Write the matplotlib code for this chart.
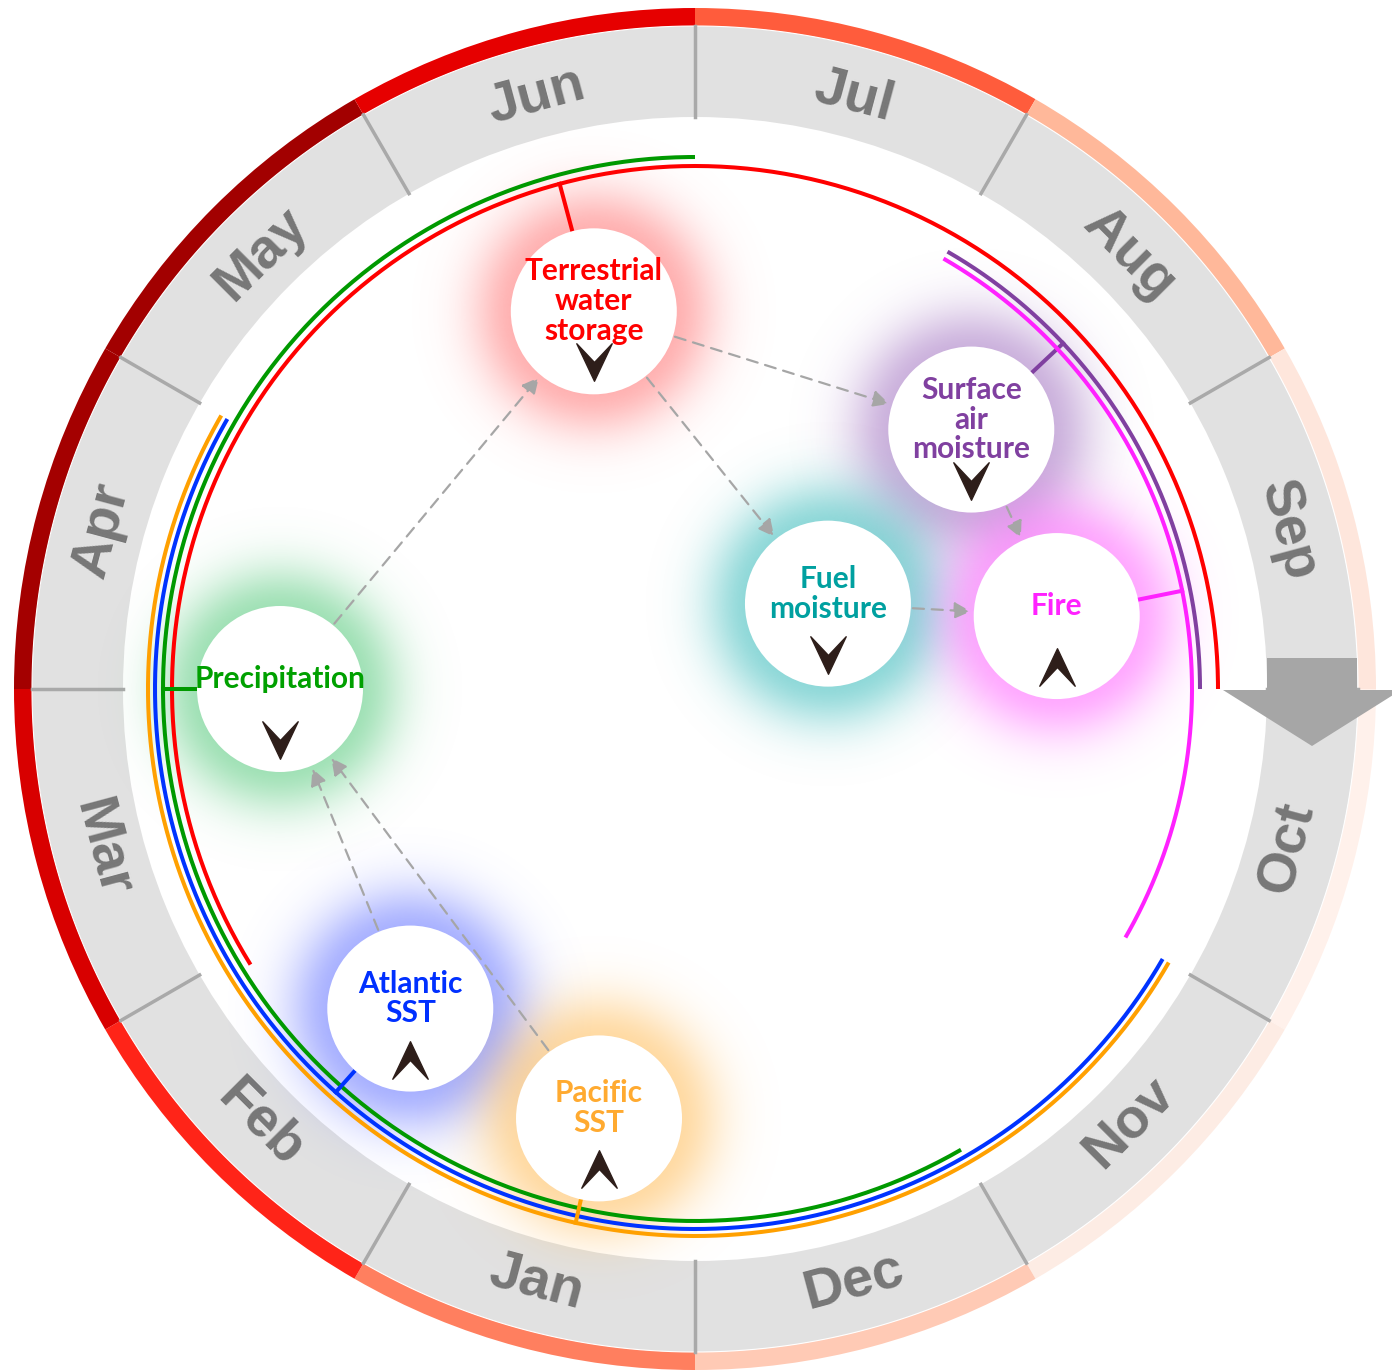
import numpy as np
import matplotlib.pyplot as plt
import matplotlib.patches as mpatches
from matplotlib.path import Path
from matplotlib.colors import to_rgb

# mesi e colori della corona esterna
months = ['Jan', 'Feb', 'Mar', 'Apr', 'May', 'Jun',
          'Jul', 'Aug', 'Sep', 'Oct', 'Nov', 'Dec']
month_colors = ['#ff7f5f', '#ff2418', '#d80000', '#a40000', '#a20000', '#e60000',
                '#ff5c3c', '#ffb89a', '#fee6dc', '#fff1eb', '#fdece4', '#ffcab5']

# variabili (nodi)
labels = ['Terrestrial\nwater\nstorage', 'Surface\nair\nmoisture', 'Fuel\nmoisture',
          'Fire', 'Precipitation', 'Atlantic\nSST', 'Pacific\nSST']
text_colors = ['#ff0000', '#8040a0', '#00a0a0', '#ff22ff', '#00a000', '#0030ff', '#ffaa30']
line_colors = ['#ff0000', '#8040a0', None, '#ff22ff', '#009900', '#0033ff', '#ffa000']
glow_colors = ['#ff7070', '#a070c0', '#30b8b8', '#ff60ff', '#50c878', '#6070ff', '#ffbb55']
peak_month = [5.5, 7.56, 7.91, 8.62, 3.0, 1.39, 0.42]   # mese di picco (0 = inizio Jan)
node_dist = [391, 379, 158, 369, 415, 428, 440]        # distanza dal centro
trend = ['down', 'down', 'down', 'up', 'down', 'up', 'up']

# archi stagionali
arc_start = [1.94, 7.0, None, 7.0, -1.0, -2.0, -2.0]
arc_end = [9.0, 9.0, None, 10.0, 6.0, 4.0, 4.0]
arc_radius = [523, 505, None, 497, 532, 540, 547]

# collegamenti (da, a)
links = [(4, 0), (0, 1), (0, 2), (1, 3), (2, 3), (5, 4), (6, 4)]

W, H = 1392, 1372
CX, CY = 695, 683
R_NODE = 83


def ang(m):
    return np.deg2rad(-90 - 30 * np.asarray(m))


def pt(m, r):
    a = ang(m)
    return CX + r * np.cos(a), CY + r * np.sin(a)


fig = plt.figure(figsize=(W / 100, H / 100), dpi=100)
ax = fig.add_axes([0, 0, 1, 1])
ax.set_xlim(0, W)
ax.set_ylim(0, H)
ax.set_aspect('equal')
ax.axis('off')

# corona grigia e fascia colorata
ax.add_patch(mpatches.Wedge((CX, CY), 663, 0, 360, width=91, fc='#e1e1e1', ec='none', zorder=1))
for i, c in enumerate(month_colors):
    ax.add_patch(mpatches.Wedge((CX, CY), 681, -120 - 30 * i, -90 - 30 * i, width=18,
                                fc=c, ec='none', zorder=1))
circ = np.linspace(0, 2 * np.pi, 400)
ax.plot(CX + 663 * np.cos(circ), CY + 663 * np.sin(circ), color='white', lw=0.8, zorder=1.5)

for i, name in enumerate(months):
    x0, y0 = pt(i, 572)
    x1, y1 = pt(i, 663)
    ax.plot([x0, x1], [y0, y1], color='#a9a9a9', lw=2.5, zorder=1.5)
    th = (-90 - 30 * (i + 0.5) + 180) % 360 - 180
    rot = th - 90 if th > 0 else th + 90
    xl, yl = pt(i + 0.5, 614)
    ax.text(xl, yl, name, rotation=rot, rotation_mode='anchor', ha='center', va='center',
            fontsize=40, fontweight='bold', family='Liberation Sans', color='#777777', zorder=2)

# nodi: alone, cerchio bianco, testo, freccia
G = 190
yy, xx = np.mgrid[-G:G + 1, -G:G + 1]
dist = np.hypot(xx, yy)
glow_alpha = 0.55 * np.exp(-np.clip(dist - 76, 0, None) ** 2 / (2 * 34 ** 2))

down = Path([(-17, 18), (0, 0), (17, 18), (0, -18), (-17, 18)],
            [Path.MOVETO, Path.LINETO, Path.LINETO, Path.LINETO, Path.CLOSEPOLY])
up = Path([(-17, -18), (0, 0), (17, -18), (0, 18), (-17, -18)],
          [Path.MOVETO, Path.LINETO, Path.LINETO, Path.LINETO, Path.CLOSEPOLY])

centers = []
for k in range(len(labels)):
    x, y = pt(peak_month[k], node_dist[k])
    centers.append((x, y))
    img = np.zeros(dist.shape + (4,))
    img[..., :3] = to_rgb(glow_colors[k])
    img[..., 3] = glow_alpha
    ax.imshow(img, extent=(x - G, x + G, y - G, y + G), interpolation='bilinear', zorder=2)
    ax.add_patch(mpatches.Circle((x, y), R_NODE, fc='white', ec='none', zorder=4))
    ax.text(x, y + 10, labels[k], color=text_colors[k], fontsize=21.5, fontweight='bold',
            family='Lato', ha='center', va='center', linespacing=1.08, zorder=6)
    ax.plot(x, y - 51, marker=down if trend[k] == 'down' else up, markersize=27,
            color='#2e1e1a', zorder=6)

# archi e tacche
for k in range(len(labels)):
    if arc_start[k] is None:
        continue
    m = np.linspace(arc_start[k], arc_end[k], 300)
    xa, ya = pt(m, arc_radius[k])
    ax.plot(xa, ya, color=line_colors[k], lw=2.9, solid_capstyle='butt', zorder=3)
    x0, y0 = pt(peak_month[k], arc_radius[k])
    x1, y1 = pt(peak_month[k], node_dist[k] + R_NODE)
    ax.plot([x0, x1], [y0, y1], color=line_colors[k], lw=2.9, zorder=3)

# frecce tratteggiate tra i nodi
for a, b in links:
    (xa, ya), (xb, yb) = centers[a], centers[b]
    d = np.hypot(xb - xa, yb - ya)
    ux, uy = (xb - xa) / d, (yb - ya) / d
    start = (xa + ux * 85, ya + uy * 85)
    end = (xb - ux * 86, yb - uy * 86)
    ax.add_patch(mpatches.FancyArrowPatch(start, end, arrowstyle='-|>', mutation_scale=25,
                                          color='#a6a6a6', lw=1.6, linestyle=(0, (5, 3.5)),
                                          shrinkA=0, shrinkB=0, zorder=5))

# freccia grigia grande
ax.add_patch(mpatches.FancyArrow(1312, H - 658, 0, -88, width=90, head_width=178, head_length=56,
                                 length_includes_head=True, fc='#a6a6a6', ec='none', zorder=5))

plt.savefig('out.png', dpi=100)
